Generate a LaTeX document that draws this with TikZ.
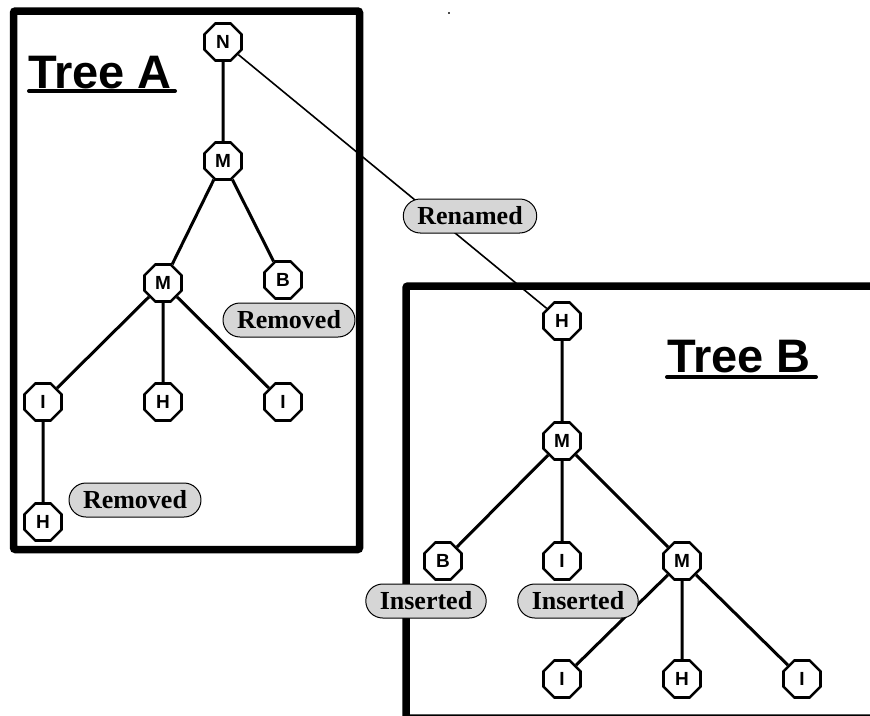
\documentclass[tikz,border=0pt]{standalone}
\usepackage{fontspec}
\usepackage{tikz}
\usetikzlibrary{shapes.geometric}
\newfontfamily\headfont{Liberation Sans}
\newfontfamily\tagfont{Liberation Serif}
\definecolor{taggray}{HTML}{D6D6D6}
\tikzset{
  leaf/.style={draw, regular polygon, regular polygon sides=8, minimum size=40pt,
    inner sep=0pt, line width=2.6pt, fill=white,
    font=\headfont\bfseries\fontsize{19}{19}\selectfont},
  tag/.style={draw, fill=taggray, line width=1pt, rounded corners=17pt,
    minimum height=34pt, inner xsep=14pt, inner ysep=0pt,
    font=\tagfont\bfseries\fontsize{26}{26}\selectfont},
  edge/.style={line width=3pt},
  frame/.style={line width=7.5pt, rounded corners=2pt},
  title/.style={font=\headfont\bfseries\fontsize{47}{47}\selectfont, inner sep=0pt}
}
\begin{document}
\begin{tikzpicture}[x=1pt,y=-1pt]
		%%%%% START %%%%%
		\useasboundingbox (0,0) rectangle (870,715);
		\clip (0,0) rectangle (870,715);
		
		% frames
		\draw[frame] (13.5,11) rectangle (359.5,549.5);
		\draw[frame] (406,286) rectangle (880,718);
		\fill[black!70] (448,12) rectangle (450,14);
		
		% titles
		\node[title, anchor=base west] (titleA) at (28,88) {Tree A};
		\draw[line width=4pt, line cap=round] (29,91) -- (175,91);
		\node[title, anchor=base west] (titleB) at (667,372) {Tree B};
		\draw[line width=4pt, line cap=round] (667,377) -- (816,377);
		
		% tree A
		\node[leaf] (aN) at (223,42) {N};
		\node[leaf] (aM) at (223,161) {M};
		\node[leaf] (aMM) at (163,283) {M};
		\node[leaf] (aB) at (283,280) {B};
		\node[leaf] (aI) at (43,402) {I};
		\node[leaf] (aH) at (163,402) {H};
		\node[leaf] (aJ) at (283,402) {I};
		\node[leaf] (aHH) at (43,522) {H};
		
		% tree B
		\node[leaf] (bH) at (562,321) {H};
		\node[leaf] (bM) at (562,441) {M};
		\node[leaf] (bB) at (443,561) {B};
		\node[leaf] (bI) at (562,561) {I};
		\node[leaf] (bMM) at (682,561) {M};
		\node[leaf] (bJ) at (562,679) {I};
		\node[leaf] (bHH) at (682,679) {H};
		\node[leaf] (bK) at (802,679) {I};
		
		% links
		\draw[line width=1.6pt] (aN) -- (bH);
		\draw[edge] (aN) -- (aM);
		\draw[edge] (aM) -- (aMM);
		\draw[edge] (aM) -- (aB);
		\draw[edge] (aMM) -- (aI);
		\draw[edge] (aMM) -- (aH);
		\draw[edge] (aMM) -- (aJ);
		\draw[edge] (aI) -- (aHH);
		
		\draw[edge] (bH) -- (bM);
		\draw[edge] (bM) -- (bB);
		\draw[edge] (bM) -- (bI);
		\draw[edge] (bM) -- (bMM);
		\draw[edge] (bMM) -- (bJ);
		\draw[edge] (bMM) -- (bHH);
		\draw[edge] (bMM) -- (bK);
		
		% tags
		\node[tag] (renamed) at (470,216) {Renamed};
		\node[tag] (removedB) at (289,320) {Removed};
		\node[tag] (removedH) at (135,500) {Removed};
		\node[tag] (insertedB) at (426,601) {Inserted};
		\node[tag] (insertedI) at (578,601) {Inserted};
		%%%%% END %%%%%
\end{tikzpicture}
\end{document}
